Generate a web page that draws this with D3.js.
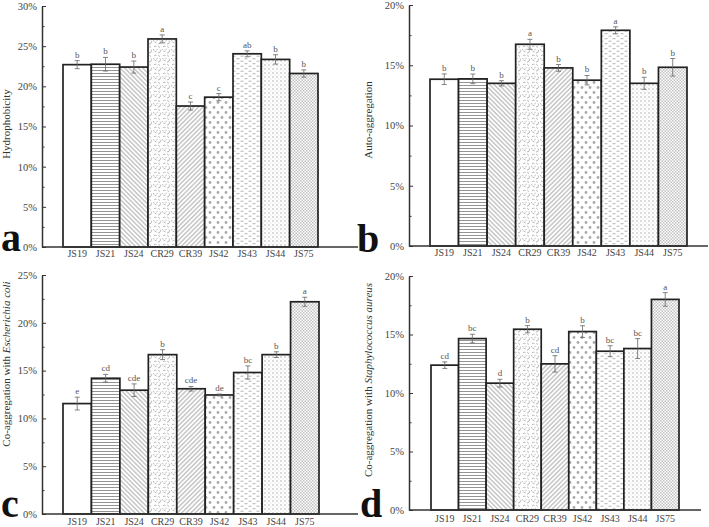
<!DOCTYPE html>
<html lang="en">
<head>
<meta charset="UTF-8" />
<title>Surface properties of strains</title>
<script src="https://cdn.jsdelivr.net/npm/d3@7"></script>
<style>
  body { margin: 0; background: #fff; }
  svg { display: block; }
  svg text { font-family: 'Liberation Serif', 'Times New Roman', serif; }
</style>
</head>
<body>
<div class="chart"></div>
<script>
// strains on the x axis
var strains = ['JS19', 'JS21', 'JS24', 'CR29', 'CR39', 'JS42', 'JS43', 'JS44', 'JS75']

// a - hydrophobicity (%)
var hydroValues = [22.7, 22.75, 22.4, 25.9, 17.55, 18.65, 24.05, 23.35, 21.6]
var hydroErrors = [0.5, 0.85, 0.75, 0.5, 0.5, 0.45, 0.37, 0.58, 0.45]
var hydroLetters = ['b', 'b', 'b', 'a', 'c', 'c', 'ab', 'b', 'b']
var hydroTicks = [0, 5, 10, 15, 20, 25, 30]

// b - auto-aggregation (%)
var autoValues = [13.84, 13.87, 13.5, 16.74, 14.78, 13.76, 17.9, 13.5, 14.83]
var autoErrors = [0.44, 0.4, 0.22, 0.41, 0.28, 0.39, 0.29, 0.5, 0.73]
var autoLetters = ['b', 'b', 'b', 'a', 'b', 'b', 'a', 'b', 'b']
var autoTicks = [0, 5, 10, 15, 20]

// c - co-aggregation with E. coli (%)
var ecoliValues = [11.55, 14.2, 12.95, 16.67, 13.1, 12.45, 14.8, 16.67, 22.2]
var ecoliErrors = [0.67, 0.4, 0.66, 0.52, 0.24, 0.1, 0.69, 0.3, 0.47]
var ecoliLetters = ['e', 'cd', 'cde', 'b', 'cde', 'de', 'bc', 'b', 'a']
var ecoliTicks = [0, 5, 10, 15, 20, 25]

// d - co-aggregation with S. aureus (%)
var aureusValues = [12.38, 14.65, 10.84, 15.45, 12.49, 15.25, 13.57, 13.8, 18.0]
var aureusErrors = [0.28, 0.37, 0.33, 0.31, 0.7, 0.5, 0.47, 0.85, 0.58]
var aureusLetters = ['cd', 'bc', 'd', 'b', 'cd', 'b', 'bc', 'bc', 'a']
var aureusTicks = [0, 5, 10, 15, 20]

var svg = d3
  .select('.chart')
  .append('svg')
  .attr('width', 709)
  .attr('height', 527)
  .style('background-color', '#fff')

/*
 * fill patterns, one per strain
 **/
var defs = svg.append('defs')
function makePattern(id, w, h, rot) {
  var p = defs
    .append('pattern')
    .attr('id', id)
    .attr('patternUnits', 'userSpaceOnUse')
    .attr('width', w)
    .attr('height', h)
  if (rot) p.attr('patternTransform', 'rotate(' + rot + ')')
  p.append('rect').attr('width', w).attr('height', h).attr('fill', '#fff')
  return p
}
// horizontal lines
makePattern('p-hline', 4, 3).append('line')
  .attr('x1', 0).attr('x2', 4).attr('y1', 1.5).attr('y2', 1.5)
  .attr('stroke', '#888').attr('stroke-width', 0.9)
// back diagonal
makePattern('p-back', 3.2, 4, -45).append('line')
  .attr('x1', 1.6).attr('x2', 1.6).attr('y1', 0).attr('y2', 4)
  .attr('stroke', '#888').attr('stroke-width', 0.8)
// forward diagonal
makePattern('p-fwd', 3.2, 4, 45).append('line')
  .attr('x1', 1.6).attr('x2', 1.6).attr('y1', 0).attr('y2', 4)
  .attr('stroke', '#888').attr('stroke-width', 0.8)
// squiggles
makePattern('p-squig', 9, 9).append('path')
  .attr('d', 'M1,2 q1,-1.5 2.5,-0.5 M5.5,0.8 l1,2 M7,4.5 q1,1 0,2.5 M1.5,6 l2,1 M4.5,3.8 l-1,1.6 M5,8 l2.2,-0.6 M0.5,4 l0.4,1.4')
  .attr('fill', 'none').attr('stroke', '#9a9a9a').attr('stroke-width', 0.7)
// large dots
var pd = makePattern('p-bigdot', 8, 10)
pd.append('circle').attr('cx', 2).attr('cy', 2.5).attr('r', 1.4).attr('fill', '#aaa')
pd.append('circle').attr('cx', 6).attr('cy', 7.5).attr('r', 1.4).attr('fill', '#aaa')
// short dashes
var pdash = makePattern('p-dash', 8, 5)
pdash.append('line').attr('x1', 0.5).attr('x2', 3.5).attr('y1', 1.2).attr('y2', 1.2)
  .attr('stroke', '#a0a0a0').attr('stroke-width', 0.8)
pdash.append('line').attr('x1', 4.5).attr('x2', 7.5).attr('y1', 3.7).attr('y2', 3.7)
  .attr('stroke', '#a0a0a0').attr('stroke-width', 0.8)
// small dots
var psd = makePattern('p-smalldot', 4, 4)
psd.append('circle').attr('cx', 1).attr('cy', 1).attr('r', 0.75).attr('fill', '#a8a8a8')
psd.append('circle').attr('cx', 3).attr('cy', 3).attr('r', 0.5).attr('fill', '#d0d0d0')
// fine checker
var pf = makePattern('p-fine', 3, 3)
pf.append('rect').attr('x', 0).attr('y', 0).attr('width', 1.5).attr('height', 1.5).attr('fill', '#c2c2c2')
pf.append('rect').attr('x', 1.5).attr('y', 1.5).attr('width', 1.5).attr('height', 1.5).attr('fill', '#c2c2c2')

var fills = ['#fff', 'url(#p-hline)', 'url(#p-back)', 'url(#p-squig)', 'url(#p-fwd)',
  'url(#p-bigdot)', 'url(#p-dash)', 'url(#p-smalldot)', 'url(#p-fine)']

/*
 * panel layout
 **/
var panels = [
  {
    values: hydroValues, errors: hydroErrors, letters: hydroLetters, ticks: hydroTicks,
    title: [['Hydrophobicity', false]], tag: 'a',
    axisX: 42, axisEnd: 358, barL: 63, barR: 318, top: 6, bottom: 247, labPad: 3,
    titleX: 9.5, titleY: 124, tagX: 1, tagY: 251
  },
  {
    values: autoValues, errors: autoErrors, letters: autoLetters, ticks: autoTicks,
    title: [['Auto-aggregation', false]], tag: 'b',
    axisX: 409, axisEnd: 708, barL: 430, barR: 687, top: 5, bottom: 246, labPad: 3,
    titleX: 372, titleY: 120, tagX: 357, tagY: 252
  },
  {
    values: ecoliValues, errors: ecoliErrors, letters: ecoliLetters, ticks: ecoliTicks,
    title: [['Co-aggregation with ', false], ['Escherichia coli', true]], tag: 'c',
    axisX: 42, axisEnd: 358, barL: 63, barR: 319, top: 275, bottom: 514, labPad: 4,
    titleX: 9.5, titleY: 364, tagX: 1, tagY: 517
  },
  {
    values: aureusValues, errors: aureusErrors, letters: aureusLetters, ticks: aureusTicks,
    title: [['Co-aggregation with ', false], ['Staphylococcus aureus', true]], tag: 'd',
    axisX: 409, axisEnd: 701, barL: 431, barR: 679, top: 276, bottom: 510, labPad: 5,
    titleX: 372, titleY: 380, tagX: 360, tagY: 517
  }
]

panels.forEach(function (cfg) {
  var g = svg.append('g')
  var xScale = d3.scaleBand().domain(strains).range([cfg.barL, cfg.barR]).padding(0)
  var yMax = d3.max(cfg.ticks)
  var yScale = d3.scaleLinear().domain([0, yMax]).range([cfg.bottom, cfg.top])
  var rows = strains.map(function (s, i) {
    return { name: s, value: cfg.values[i], err: cfg.errors[i], letter: cfg.letters[i], fill: fills[i] }
  })

  // bars
  g.selectAll('.bar')
    .data(rows)
    .enter()
    .append('rect')
    .attr('class', 'bar')
    .attr('x', (d) => xScale(d.name))
    .attr('y', (d) => yScale(d.value))
    .attr('width', xScale.bandwidth())
    .attr('height', (d) => yScale(0) - yScale(d.value))
    .attr('fill', (d) => d.fill)
    .attr('stroke', '#222')
    .attr('stroke-width', 1.7)

  // error bars
  var eb = g.selectAll('.err').data(rows).enter().append('g').attr('class', 'err')
    .attr('stroke', '#666').attr('stroke-width', 0.8)
  var cx = (d) => xScale(d.name) + xScale.bandwidth() / 2
  eb.append('line').attr('x1', cx).attr('x2', cx)
    .attr('y1', (d) => yScale(d.value + d.err)).attr('y2', (d) => yScale(d.value - d.err))
  eb.append('line').attr('x1', (d) => cx(d) - 2.5).attr('x2', (d) => cx(d) + 2.5)
    .attr('y1', (d) => yScale(d.value + d.err)).attr('y2', (d) => yScale(d.value + d.err))
  eb.append('line').attr('x1', (d) => cx(d) - 2.5).attr('x2', (d) => cx(d) + 2.5)
    .attr('y1', (d) => yScale(d.value - d.err)).attr('y2', (d) => yScale(d.value - d.err))

  // significance letters
  g.selectAll('.sig').data(rows).enter().append('text')
    .attr('class', 'sig')
    .attr('x', cx)
    .attr('y', (d) => yScale(d.value + d.err) - 3)
    .attr('text-anchor', 'middle')
    .style('font-size', '9px')
    .style('fill', '#555')
    .text((d) => d.letter)

  // y axis
  var yAxis = g.append('g').attr('class', 'yAxis').attr('transform', 'translate(' + cfg.axisX + ',0)')
    .call(d3.axisLeft(yScale).tickValues(cfg.ticks).tickFormat((d) => d + '%')
      .tickSizeInner(-4).tickSizeOuter(0).tickPadding(5))
  yAxis.attr('font-family', null)
  var minors = cfg.ticks.slice(1).map((t) => t - 2.5)
  g.append('g').attr('transform', 'translate(' + cfg.axisX + ',0)')
    .call(d3.axisLeft(yScale).tickValues(minors).tickFormat('').tickSize(-2.5))
    .call((s) => s.select('.domain').remove())
    .selectAll('line').attr('stroke', '#333')
  yAxis.select('.domain').attr('stroke', '#333').attr('stroke-width', 1.5)
  yAxis.selectAll('line').attr('stroke', '#333')
  yAxis.selectAll('text').style('font-size', '10.5px').style('fill', '#444')

  // x axis
  var xAxis = g.append('g').attr('transform', 'translate(0,' + cfg.bottom + ')')
    .call(d3.axisBottom(xScale).tickSize(0).tickPadding(cfg.labPad))
  xAxis.attr('font-family', null)
  xAxis.select('.domain').remove()
  xAxis.selectAll('text').style('font-size', '10px').style('fill', '#444')
  g.append('line')
    .attr('x1', cfg.axisX).attr('x2', cfg.axisEnd)
    .attr('y1', cfg.bottom).attr('y2', cfg.bottom)
    .attr('stroke', '#333').attr('stroke-width', 1.5)

  // y title
  var t = g.append('text')
    .attr('transform', 'translate(' + cfg.titleX + ',' + cfg.titleY + ') rotate(-90)')
    .attr('text-anchor', 'middle')
    .style('font-size', '11px')
    .style('fill', '#333')
  cfg.title.forEach(function (part) {
    t.append('tspan').style('font-style', part[1] ? 'italic' : 'normal').text(part[0])
  })

  // panel tag
  g.append('text')
    .attr('x', cfg.tagX).attr('y', cfg.tagY)
    .style('font-size', '40px').style('font-weight', 'bold').style('fill', '#111')
    .text(cfg.tag)
})
</script>
</body>
</html>
